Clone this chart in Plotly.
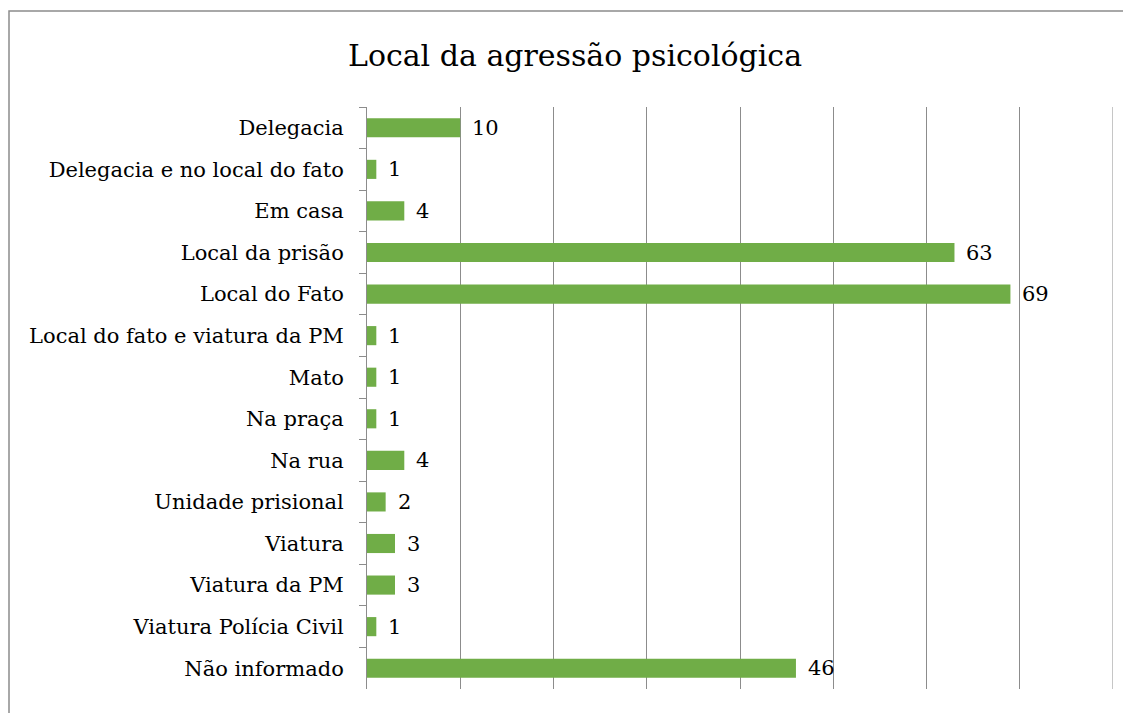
import plotly.graph_objects as go

categories = ["Delegacia", "Delegacia e no local do fato", "Em casa", "Local da prisão",
              "Local do Fato", "Local do fato e viatura da PM", "Mato", "Na praça",
              "Na rua", "Unidade prisional", "Viatura", "Viatura da PM",
              "Viatura Polícia Civil", "Não informado"]
values = [10, 1, 4, 63, 69, 1, 1, 1, 4, 2, 3, 3, 1, 46]
title_text = "Local da agressão psicológica"
x_max = 80

SERIF = "DejaVu Serif"
GRID = "#8c8c8c"

fig = go.Figure(go.Bar(
    y=categories, x=values, orientation="h",
    marker=dict(color="#70AD47", line=dict(width=0)),
    cliponaxis=False,
))

annotations = [dict(x=v, y=c, xref="x", yref="y", text=str(v), showarrow=False,
                    xanchor="left", yanchor="middle", xshift=10,
                    font=dict(family=SERIF, size=21, color="#000000"))
               for c, v in zip(categories, values)]

W, H = 1131, 713
L, T, R, B = 359, 99, 26, 32
pw = W - L - R
ph = H - T - B

fig.update_layout(
    width=W, height=H,
    margin=dict(l=L, r=R, t=T, b=B),
    paper_bgcolor="white", plot_bgcolor="white",
    bargap=0.54,
    showlegend=False,
    title=dict(text=title_text, x=567 / W, xanchor="center", y=1 - 47 / H, yanchor="middle",
               font=dict(family=SERIF, size=30, color="#000000")),
    font=dict(family=SERIF, size=21, color="#000000"),
    xaxis=dict(range=[0, x_max], dtick=10, showticklabels=False, showgrid=True,
               gridcolor=GRID, gridwidth=1, zeroline=False, showline=False, ticks=""),
    yaxis=dict(autorange="reversed", showline=True, linecolor=GRID, linewidth=1,
               ticks="outside", ticklen=7, tickcolor=GRID, tickson="boundaries",
               ticklabelstandoff=18, showgrid=False,
               tickfont=dict(family=SERIF, size=21, color="#000000")),
    annotations=annotations,
    shapes=[
        dict(type="rect", xref="paper", yref="paper",
             x0=-(L - 1) / pw, x1=1.2, y0=-0.2, y1=1 + (T - 3) / ph,
             line=dict(color=GRID, width=1.5), fillcolor="rgba(0,0,0,0)", layer="below"),
        dict(type="line", xref="x", yref="paper", x0=x_max, x1=x_max, y0=0, y1=1,
             line=dict(color=GRID, width=1), layer="below"),
    ],
)

fig.write_html("out.html")
